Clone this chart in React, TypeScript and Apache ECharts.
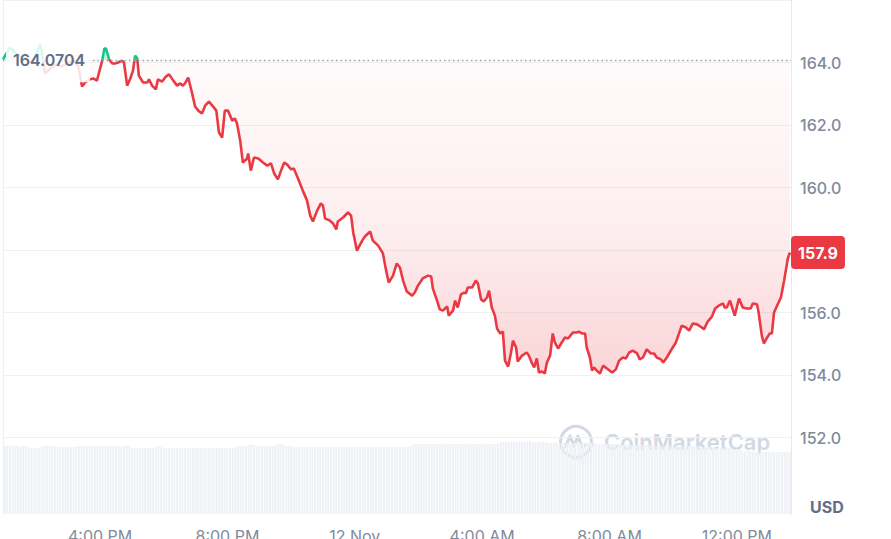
import React, { useEffect, useRef } from 'react';
import * as echarts from 'echarts';

// opening price of the window, drawn as the dotted baseline
const OPEN_PRICE = 164.0704;

// minutes relative to 12 Nov 00:00 (negative = 11 Nov)
const X_MIN = -663;
const X_MAX = 822;

const priceTimes = [
  -663, -650, -636, -621, -608, -599, -593, -587, -584, -574,
  -563, -552, -540, -529, -521, -514, -508, -499, -493, -486,
  -482, -476, -472, -469, -463, -457, -452, -446, -439, -435,
  -429, -423, -418, -414, -410, -407, -399, -391, -388, -382,
  -375, -371, -363, -356, -350, -342, -335, -329, -324, -320,
  -314, -307, -301, -295, -288, -282, -275, -267, -261, -256,
  -250, -245, -239, -231, -226, -222, -216, -211, -203, -201,
  -196, -190, -182, -173, -165, -158, -152, -145, -139, -133,
  -128, -120, -115, -107, -98, -90, -84, -79, -71, -64,
  -60, -56, -47, -41, -35, -32, -22, -13, -7, -3,
  4, 14, 19, 29, 34, 44, 53, 59, 64, 72,
  79, 85, 91, 98, 108, 113, 119, 128, 138, 144,
  147, 155, 160, 166, 174, 177, 185, 189, 194, 200,
  206, 209, 213, 221, 223, 228, 232, 238, 243, 249,
  253, 258, 264, 268, 274, 279, 283, 289, 294, 298,
  304, 307, 315, 324, 328, 334, 338, 343, 347, 353,
  358, 362, 368, 373, 377, 383, 390, 396, 402, 411,
  419, 422, 428, 434, 437, 443, 447, 451, 456, 462,
  468, 475, 485, 492, 498, 505, 511, 517, 524, 532,
  537, 543, 550, 558, 564, 569, 577, 581, 588, 598,
  605, 611, 616, 624, 630, 637, 645, 654, 658, 665,
  673, 679, 686, 694, 697, 701, 707, 716, 724, 731,
  739, 746, 750, 758, 761, 767, 771, 776, 782, 786,
  790, 795, 803, 809, 816, 820,
];

const prices = [
  164.1, 164.48, 164.26, 164.13, 163.97, 164.32, 164.58, 164.06, 163.65, 163.81,
  163.94, 163.87, 164.0, 164.06, 163.87, 163.23, 163.37, 163.46, 163.49, 163.42,
  163.68, 164.06, 164.45, 164.45, 164.1, 163.97, 163.97, 164.0, 164.06, 164.0,
  163.26, 163.49, 163.74, 164.22, 164.13, 163.58, 163.36, 163.36, 163.46, 163.26,
  163.14, 163.46, 163.39, 163.55, 163.62, 163.42, 163.26, 163.33, 163.26, 163.33,
  163.52, 163.04, 162.59, 162.46, 162.37, 162.62, 162.75, 162.59, 162.46, 161.76,
  161.6, 162.46, 162.46, 162.14, 162.21, 162.05, 161.5, 160.8, 160.93, 161.09,
  160.54, 160.96, 160.93, 160.8, 160.7, 160.77, 160.45, 160.26, 160.54, 160.8,
  160.74, 160.58, 160.61, 160.29, 159.9, 159.58, 159.1, 158.91, 159.26, 159.49,
  159.42, 159.01, 158.94, 158.85, 158.66, 158.91, 159.04, 159.2, 159.1, 158.56,
  157.98, 158.3, 158.43, 158.59, 158.3, 158.14, 157.89, 157.34, 156.96, 157.18,
  157.57, 157.44, 157.02, 156.67, 156.54, 156.64, 156.86, 157.09, 157.18, 157.15,
  156.77, 156.38, 156.1, 156.06, 156.19, 155.9, 156.06, 156.38, 156.16, 156.58,
  156.64, 156.61, 156.8, 156.8, 156.86, 157.02, 156.93, 156.42, 156.35, 156.48,
  156.7, 156.16, 155.9, 155.49, 155.33, 155.39, 154.46, 154.27, 154.69, 155.1,
  154.88, 154.43, 154.62, 154.72, 154.62, 154.37, 154.24, 154.53, 154.08, 154.11,
  154.05, 154.4, 154.62, 155.33, 155.04, 154.85, 155.04, 155.2, 155.17, 155.36,
  155.36, 155.39, 155.33, 155.33, 154.88, 154.56, 154.14, 154.24, 154.14, 154.05,
  154.3, 154.21, 154.08, 154.18, 154.46, 154.56, 154.53, 154.72, 154.78, 154.69,
  154.5, 154.56, 154.82, 154.69, 154.69, 154.56, 154.5, 154.4, 154.56, 154.85,
  155.04, 155.33, 155.58, 155.52, 155.42, 155.65, 155.62, 155.52, 155.46, 155.71,
  155.87, 156.13, 156.22, 156.29, 156.16, 156.16, 156.38, 155.9, 156.45, 156.16,
  156.13, 156.13, 156.29, 156.26, 156.0, 155.26, 155.01, 155.17, 155.33, 155.33,
  156.0, 156.19, 156.48, 157.02, 157.73, 157.92,
];

// 5-minute volume buckets, first one at VOLUME_START
const VOLUME_START = -660;
const VOLUME_STEP = 5;
const volumes = [
  68, 68, 69, 68, 68, 68, 67, 68, 68, 67, 66, 66,
  66, 66, 67, 68, 68, 68, 68, 67, 67, 67, 67, 67,
  67, 67, 67, 67, 68, 68, 68, 68, 68, 68, 68, 68,
  68, 68, 68, 68, 68, 68, 68, 68, 67, 68, 68, 68,
  66, 66, 66, 66, 66, 66, 66, 66, 66, 67, 68, 67,
  66, 66, 66, 66, 66, 66, 66, 66, 66, 66, 66, 66,
  66, 66, 66, 66, 66, 66, 66, 66, 66, 66, 66, 66,
  66, 66, 66, 67, 68, 68, 68, 68, 69, 70, 69, 68,
  68, 68, 68, 68, 68, 68, 69, 70, 70, 69, 68, 68,
  68, 67, 67, 67, 67, 67, 67, 67, 67, 67, 67, 67,
  67, 67, 67, 67, 67, 67, 67, 67, 67, 67, 67, 67,
  67, 67, 67, 67, 67, 67, 67, 67, 67, 67, 67, 67,
  67, 67, 67, 67, 67, 67, 67, 67, 67, 68, 70, 70,
  70, 70, 70, 70, 70, 70, 70, 70, 70, 70, 70, 70,
  70, 70, 70, 70, 70, 70, 70, 70, 70, 70, 70, 70,
  70, 70, 70, 70, 70, 70, 71, 72, 72, 72, 72, 72,
  72, 72, 72, 72, 72, 72, 73, 72, 72, 72, 72, 72,
  72, 71, 71, 71, 71, 71, 71, 71, 71, 71, 71, 71,
  71, 71, 71, 71, 71, 71, 71, 70, 70, 70, 70, 70,
  70, 70, 70, 70, 69, 69, 69, 69, 69, 69, 69, 69,
  69, 69, 69, 69, 69, 68, 68, 68, 68, 68, 68, 68,
  68, 68, 68, 68, 68, 68, 68, 68, 68, 67, 67, 67,
  67, 67, 67, 66, 66, 66, 66, 66, 66, 66, 65, 65,
  65, 64, 64, 63, 63, 63, 63, 62, 62, 62, 62, 62,
  62, 62, 62, 62, 62, 62, 62, 62, 62,
];

const xTickValues = [-480, -240, 0, 240, 480, 720];
const xTickLabels = ['4:00 PM', '8:00 PM', '12 Nov', '4:00 AM', '8:00 AM', '12:00 PM'];

const PRICE_MIN = 152;
const PRICE_MAX = 166;
const PRICE_STEP = 2;

const RED = '#ea3943';
const GREEN = '#16c784';
const AXIS_TEXT = '#808a9d';
const GRID_LINE = '#eff1f4';
const EDGE_LINE = '#e6e9ee';

export default function App() {
  const chartRef = useRef<HTMLDivElement>(null);

  useEffect(() => {
    if (!chartRef.current) return;
    const chart = echarts.init(chartRef.current, undefined, { renderer: 'svg' });

    const lastPrice = prices[prices.length - 1];
    const maxPrice = Math.max(...prices);
    const minPrice = Math.min(...prices);
    // where the baseline sits inside the area's bounding box (top = max)
    const baseOffset = (maxPrice - OPEN_PRICE) / (maxPrice - minPrice);

    const edgeAxis = (gridIndex: number, position: string, color: string) => ({
      type: 'value',
      gridIndex,
      position,
      min: 0,
      max: 76.5,
      axisLine: { show: true, onZero: false, lineStyle: { color } },
      axisTick: { show: false },
      axisLabel: { show: false },
      splitLine: { show: false },
    });

    const option = {
      animation: false,
      textStyle: { fontFamily: 'Inter, sans-serif' },
      grid: [
        { left: 3, right: 100, top: 0, bottom: 101.5, outerBoundsMode: 'none' },
        { left: 3, right: 100, top: 437.5, bottom: 25, outerBoundsMode: 'none' },
      ],
      xAxis: [
        {
          type: 'value',
          gridIndex: 0,
          min: X_MIN,
          max: X_MAX,
          axisLine: { show: false },
          axisTick: { show: false },
          axisLabel: { show: false },
          splitLine: { show: false },
        },
        {
          type: 'value',
          gridIndex: 1,
          min: X_MIN,
          max: X_MAX,
          axisLine: { show: false },
          axisTick: { show: false, customValues: xTickValues },
          splitLine: { show: false },
          axisLabel: {
            customValues: xTickValues,
            formatter: (v: number) => xTickLabels[xTickValues.indexOf(v)] ?? '',
            color: AXIS_TEXT,
            fontSize: 16,
            margin: 14,
          },
        },
      ],
      yAxis: [
        {
          type: 'value',
          gridIndex: 0,
          position: 'right',
          min: PRICE_MIN,
          max: PRICE_MAX,
          interval: PRICE_STEP,
          axisLine: { show: true, onZero: false, lineStyle: { color: EDGE_LINE } },
          axisTick: { show: false },
          splitLine: { lineStyle: { color: GRID_LINE } },
          axisLabel: {
            color: AXIS_TEXT,
            fontSize: 16,
            fontWeight: 500,
            margin: 9,
            showMaxLabel: false,
            // the tick hidden behind the last-price tag is left blank
            formatter: (v: number) => (Math.abs(v - lastPrice) < 1 ? '' : v.toFixed(1)),
          },
        },
        edgeAxis(0, 'left', GRID_LINE),
        edgeAxis(1, 'right', EDGE_LINE),
        edgeAxis(1, 'left', GRID_LINE),
      ],
      visualMap: {
        show: false,
        type: 'piecewise',
        seriesIndex: 0,
        dimension: 1,
        // closed pieces so the line gradient gets real colour stops
        pieces: [
          { gte: PRICE_MIN - 50, lt: OPEN_PRICE, color: RED },
          { gte: OPEN_PRICE, lte: PRICE_MAX + 50, color: GREEN },
        ],
      },
      series: [
        {
          type: 'line',
          xAxisIndex: 0,
          yAxisIndex: 0,
          z: 2,
          data: priceTimes.map((t, i) => [t, prices[i]]),
          showSymbol: false,
          symbol: 'none',
          silent: true,
          lineStyle: { width: 2.6 },
          areaStyle: {
            origin: OPEN_PRICE,
            color: new echarts.graphic.LinearGradient(0, 0, 0, 1, [
              { offset: 0, color: 'rgba(22, 199, 132, 0.3)' },
              { offset: baseOffset, color: 'rgba(22, 199, 132, 0.3)' },
              { offset: baseOffset + 0.001, color: 'rgba(234, 57, 67, 0.03)' },
              { offset: 0.55, color: 'rgba(234, 57, 67, 0.12)' },
              { offset: 1, color: 'rgba(234, 57, 67, 0.3)' },
            ]),
          },
          markLine: {
            silent: true,
            symbol: 'none',
            z: 10,
            data: [
              {
                yAxis: OPEN_PRICE,
                lineStyle: { color: '#9aa3b3', type: [1.5, 3], width: 1.3 },
                label: { show: false },
              },
              {
                yAxis: lastPrice,
                lineStyle: { color: 'rgba(0,0,0,0)', width: 0 },
                label: {
                  show: true,
                  position: 'end',
                  distance: 0,
                  formatter: lastPrice.toFixed(1),
                  color: '#ffffff',
                  fontSize: 16,
                  fontWeight: 700,
                  backgroundColor: RED,
                  borderRadius: 4,
                  padding: [9, 7, 8, 7],
                },
              },
            ],
          },
        },
        {
          type: 'bar',
          xAxisIndex: 1,
          yAxisIndex: 2,
          data: volumes.map((v, i) => [VOLUME_START + i * VOLUME_STEP, v]),
          barWidth: 2,
          silent: true,
          itemStyle: { color: '#eef1f5' },
        },
      ],
      graphic: [
        {
          type: 'text',
          id: 'usd',
          left: 810,
          top: 499,
          z: 10,
          style: { text: 'USD', fontSize: 16, fontWeight: 700, fill: '#616e85', fontFamily: 'Inter, sans-serif' },
        },
        {
          type: 'group',
          id: 'watermark',
          left: 558,
          top: 424,
          z: 10,
          silent: true,
          children: [
            {
              type: 'circle',
              shape: { cx: 17, cy: 17, r: 15.5 },
              style: { fill: 'none', stroke: '#d3d9e3', lineWidth: 3 },
            },
            {
              type: 'polyline',
              shape: { points: [[6, 23], [11, 11], [15, 21], [19, 11], [23, 22], [28, 19]] },
              style: { fill: 'none', stroke: '#d3d9e3', lineWidth: 3, lineJoin: 'round' },
            },
            {
              type: 'text',
              x: 45,
              y: 17,
              style: {
                text: 'CoinMarketCap',
                fontSize: 22,
                fontWeight: 600,
                fill: '#d3d9e3',
                verticalAlign: 'middle',
                fontFamily: 'Inter, sans-serif',
              },
            },
          ],
        },
      ],
    };

    chart.setOption(option as any);

    // open-price tag sits on the baseline, over the start of the line,
    // with a translucent white plate that fades the line beneath it
    const [px, py] = chart.convertToPixel({ gridIndex: 0 }, [X_MIN, OPEN_PRICE]);
    chart.setOption({
      graphic: [
        {
          type: 'rect',
          id: 'openPlate',
          z: 99,
          silent: true,
          shape: { x: px + 3, y: py - 22, width: 84, height: 44 },
          style: { fill: 'rgba(255, 255, 255, 0.85)' },
        },
        {
          type: 'text',
          id: 'openTag',
          x: px + 10,
          y: py,
          z: 100,
          silent: true,
          style: {
            text: OPEN_PRICE.toFixed(4),
            fontSize: 16,
            fontWeight: 600,
            fill: '#616e85',
            fontFamily: 'Inter, sans-serif',
            verticalAlign: 'middle',
          },
        },
      ],
    } as any);

    return () => {
      chart.dispose();
    };
  }, []);

  return (
    <div
      ref={chartRef}
      style={{ position: 'absolute', left: 0, top: 0, width: 891, height: 539 }}
    />
  );
}
